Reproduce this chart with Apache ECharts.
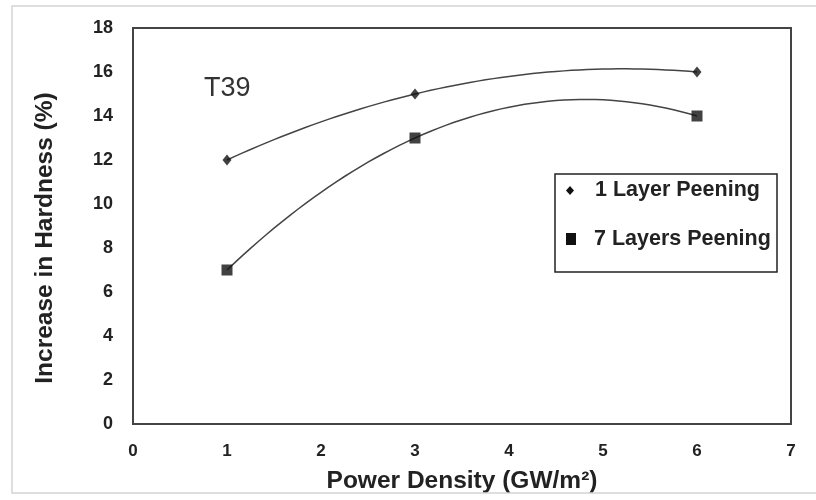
<!DOCTYPE html>
<html>
<head>
<meta charset="utf-8">
<script src="https://cdn.jsdelivr.net/npm/echarts@6/dist/echarts.min.js"></script>
<style>
  html, body { margin: 0; padding: 0; background: #fff; }
  #chart { width: 816px; height: 500px; }
</style>
</head>
<body>
<div id="chart"></div>
<script>
// Power density (GW/m^2) at which each peening condition was tested
const powerDensity = [1, 3, 6];
// Increase in hardness (%) for each condition
const oneLayer = [12, 15, 16];
const sevenLayers = [7, 13, 14];
const seriesNames = ['1 Layer Peening', '7 Layers Peening'];
const xTicks = [0, 1, 2, 3, 4, 5, 6, 7];
const yTicks = [0, 2, 4, 6, 8, 10, 12, 14, 16, 18];

// Least-squares second-order polynomial trendline through (xs, ys)
function quadFit(xs, ys) {
  let s = [0, 0, 0, 0, 0], t = [0, 0, 0];
  for (let i = 0; i < xs.length; i++) {
    let p = 1;
    for (let k = 0; k < 5; k++) { s[k] += p; if (k < 3) t[k] += p * ys[i]; p *= xs[i]; }
  }
  const M = [[s[0], s[1], s[2], t[0]], [s[1], s[2], s[3], t[1]], [s[2], s[3], s[4], t[2]]];
  for (let c = 0; c < 3; c++) {
    let piv = c;
    for (let r = c + 1; r < 3; r++) if (Math.abs(M[r][c]) > Math.abs(M[piv][c])) piv = r;
    [M[c], M[piv]] = [M[piv], M[c]];
    for (let r = 0; r < 3; r++) {
      if (r === c) continue;
      const f = M[r][c] / M[c][c];
      for (let k = c; k < 4; k++) M[r][k] -= f * M[c][k];
    }
  }
  const c0 = M[0][3] / M[0][0], c1 = M[1][3] / M[1][1], c2 = M[2][3] / M[2][2];
  return x => c0 + c1 * x + c2 * x * x;
}

function trendline(xs, ys) {
  const f = quadFit(xs, ys);
  const lo = Math.min(...xs), hi = Math.max(...xs);
  const pts = [];
  const n = 60;
  for (let i = 0; i <= n; i++) {
    const x = lo + (hi - lo) * i / n;
    pts.push([x, f(x)]);
  }
  return pts;
}

const pairs = ys => powerDensity.map((x, i) => [x, ys[i]]);

const chart = echarts.init(document.getElementById('chart'));
const FONT = 'Liberation Sans, Arial, sans-serif';
const bold = { fontFamily: FONT, fontWeight: 'bold', color: '#222' };

chart.setOption({
  animation: false,
  backgroundColor: '#fff',
  grid: {
    left: 133, right: 25, top: 28, bottom: 76,
    outerBoundsMode: 'none', containLabel: false,
    show: true, borderColor: '#444', borderWidth: 2, backgroundColor: '#fff'
  },
  xAxis: {
    type: 'value', min: xTicks[0], max: xTicks[xTicks.length - 1], interval: 1,
    name: 'Power Density (GW/m²)', nameLocation: 'middle', nameGap: 45,
    nameTextStyle: Object.assign({ fontSize: 24.5 }, bold),
    axisLine: { show: false }, axisTick: { show: false }, splitLine: { show: false },
    axisLabel: Object.assign({ fontSize: 17, margin: 19 }, bold)
  },
  yAxis: {
    type: 'value', min: yTicks[0], max: yTicks[yTicks.length - 1], interval: 2,
    name: 'Increase in Hardness (%)', nameLocation: 'middle', nameGap: 75,
    nameTextStyle: Object.assign({ fontSize: 24.5, padding: [0, 24, 0, 0] }, bold),
    axisLine: { show: false }, axisTick: { show: false }, splitLine: { show: false },
    axisLabel: Object.assign({ fontSize: 18, margin: 20 }, bold)
  },
  graphic: [
    { type: 'rect', z: 100, silent: true, shape: { x: 12, y: 6, width: 820, height: 487 },
      style: { fill: 'none', stroke: '#d4d4d4', lineWidth: 1.5 } },
    { type: 'text', x: 204, y: 75, z: 60,
      style: { text: 'T39', fontSize: 27, fontFamily: FONT, fill: '#333' } },
    { type: 'rect', z: 50, shape: { x: 555, y: 174, width: 222, height: 98 },
      style: { fill: '#fff', stroke: '#222', lineWidth: 1.5 } },
    { type: 'polygon', z: 51, shape: { points: [[570, 186], [574, 190.5], [570, 195], [566, 190.5]] },
      style: { fill: '#111' } },
    { type: 'text', x: 595, y: 179, z: 51,
      style: { text: seriesNames[0], fontSize: 21.5, fontWeight: 'bold', fontFamily: FONT, fill: '#222' } },
    { type: 'rect', z: 51, shape: { x: 566, y: 233, width: 10, height: 12 }, style: { fill: '#111' } },
    { type: 'text', x: 594, y: 228, z: 51,
      style: { text: seriesNames[1], fontSize: 21.5, fontWeight: 'bold', fontFamily: FONT, fill: '#222' } }
  ],
  series: [
    { name: seriesNames[0] + ' trend', type: 'line', data: trendline(powerDensity, oneLayer),
      showSymbol: false, lineStyle: { color: '#444', width: 1.5 }, z: 2 },
    { name: seriesNames[1] + ' trend', type: 'line', data: trendline(powerDensity, sevenLayers),
      showSymbol: false, lineStyle: { color: '#444', width: 1.5 }, z: 2 },
    { name: seriesNames[0], type: 'scatter', data: pairs(oneLayer),
      symbol: 'diamond', symbolSize: [9, 11], itemStyle: { color: '#111' }, z: 3 },
    { name: seriesNames[1], type: 'scatter', data: pairs(sevenLayers),
      symbol: 'rect', symbolSize: 11, itemStyle: { color: '#111' }, z: 3 }
  ]
});
</script>
</body>
</html>
